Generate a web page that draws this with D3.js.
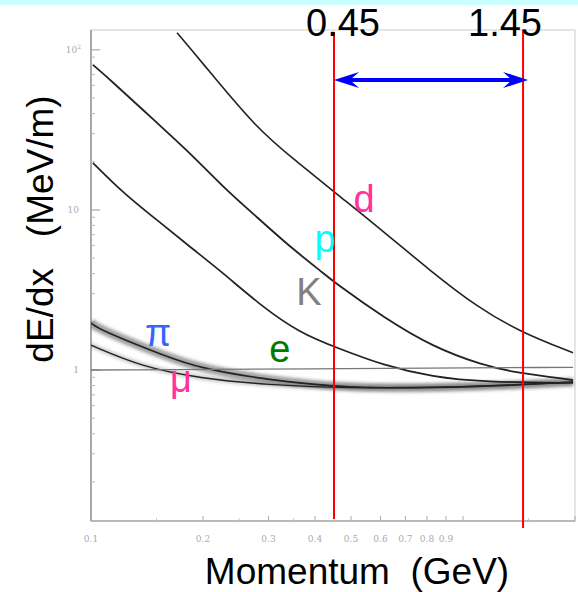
<!DOCTYPE html>
<html>
<head>
<meta charset="utf-8">
<script src="https://cdn.jsdelivr.net/npm/d3@7"></script>
<style>
  body { margin: 0; background: #fff; }
  svg { display: block; font-family: "Liberation Sans", Arial, sans-serif; }
</style>
</head>
<body>
<svg id="chart" width="578" height="592"></svg>
<script>
// momentum (GeV) and dE/dx (MeV/m)
var deutP  = [0.1703, 0.1963, 0.279, 0.358, 0.461, 0.573, 0.830, 1.091, 1.423, 1.976];
var deutE  = [127.7, 86.6, 32.0, 20.0, 12.4, 8.29, 4.04, 2.48, 1.73, 1.28];
var protP  = [0.1012, 0.1104, 0.1504, 0.1846, 0.2264, 0.279, 0.343, 0.4205, 0.461, 0.610, 0.830, 1.132, 1.363, 1.976];
var protE  = [80.5, 67.8, 35.0, 22.7, 13.9, 9.04, 5.87, 4.04, 3.40, 2.14, 1.39, 1.07, 0.97, 0.866];
var kaonP  = [0.1012, 0.1219, 0.1504, 0.1846, 0.2264, 0.2846, 0.3646, 0.461, 0.610, 0.830, 1.132, 1.976];
var kaonE  = [19.7, 12.8, 8.66, 5.87, 4.04, 2.55, 1.70, 1.37, 1.07, 0.904, 0.841, 0.83];
var pionP  = [0.1, 0.1057, 0.160, 0.196, 0.297, 0.497, 0.830, 1.423, 1.976];
var pionE  = [1.97, 1.78, 1.21, 1.03, 0.866, 0.772, 0.772, 0.806, 0.841];
var muonP  = [0.1, 0.138, 0.196, 0.297, 0.497, 0.830, 1.423, 1.976];
var muonE  = [1.43, 1.04, 0.89, 0.806, 0.772, 0.775, 0.81, 0.84];
var elecP  = [0.1, 0.5, 1.976];
var elecE  = [1.0, 1.02, 1.04];

var cutValues = [0.45, 1.45];
var cutLabels = ["0.45", "1.45"];

var labelText = ["d", "p", "K", "\u03c0", "e", "\u03bc"];
var labelP    = [0.542, 0.4256, 0.3855, 0.1514, 0.322, 0.1746];
var labelE    = [9.70, 5.46, 2.55, 1.41, 1.12, 0.728];
var labelColor = ["#ff3399", "#00ffff", "#808080", "#3366ff", "#007a00", "#ff3399"];

var yTickValues = [1, 10, 100];
var xTickValues = [0.1, 0.2, 0.3, 0.4, 0.5, 0.6, 0.7, 0.8, 0.9];
var xTickLabels = ["0.1", "0.2", "0.3", "0.4", "0.5", "0.6", "0.7", "0.8", "0.9"];

var svg = d3.select("#chart");

var plotLeft = 91, plotRight = 575, plotTop = 30, plotBottom = 521;
var x = d3.scaleLog().domain([0.1, 2.0]).range([plotLeft, plotRight]);
var y = d3.scaleLog().domain([0.114, 133]).range([plotBottom, plotTop]);

// light cyan strip at the very top
svg.append("rect").attr("x", 0).attr("y", 0).attr("width", 578).attr("height", 5).attr("fill", "#ccffff");

var defs = svg.append("defs");
defs.append("clipPath").attr("id", "plotClip")
  .append("rect").attr("x", plotLeft).attr("y", plotTop).attr("width", plotRight - plotLeft).attr("height", plotBottom - plotTop);
defs.append("filter").attr("id", "soft").attr("x", "-5%").attr("y", "-20%").attr("width", "110%").attr("height", "140%")
  .append("feGaussianBlur").attr("stdDeviation", 0.5);
defs.append("filter").attr("id", "band").attr("x", "-5%").attr("y", "-50%").attr("width", "110%").attr("height", "200%")
  .append("feGaussianBlur").attr("stdDeviation", 1.8);

// frame
svg.append("rect").attr("x", plotLeft).attr("y", plotTop).attr("width", plotRight - plotLeft).attr("height", plotBottom - plotTop)
  .attr("fill", "none").attr("stroke", "#d4d4d4").attr("stroke-width", 1.2);
svg.append("line").attr("x1", plotLeft).attr("x2", plotLeft).attr("y1", plotTop).attr("y2", plotBottom)
  .attr("stroke", "#999").attr("stroke-width", 1.6);
svg.append("line").attr("x1", plotLeft).attr("x2", plotRight).attr("y1", plotBottom).attr("y2", plotBottom)
  .attr("stroke", "#aaa").attr("stroke-width", 1.4);

// y ticks (inside)
var yMinor = [];
[0.1, 1, 10].forEach(function(dec){
  for (var k = 2; k <= 9; k++) {
    var v = dec * k;
    if (v > 0.114 && v < 133) yMinor.push(v);
  }
});
svg.selectAll(".ymin").data(yMinor).enter().append("line")
  .attr("x1", plotLeft).attr("x2", plotLeft + 4)
  .attr("y1", function(d){ return y(d); }).attr("y2", function(d){ return y(d); })
  .attr("stroke", "#bbb").attr("stroke-width", 1);
svg.selectAll(".ymaj").data(yTickValues).enter().append("line")
  .attr("x1", plotLeft).attr("x2", plotLeft + 9)
  .attr("y1", function(d){ return y(d); }).attr("y2", function(d){ return y(d); })
  .attr("stroke", "#aaa").attr("stroke-width", 1.2);

var yLab = svg.append("g").attr("fill", "#aaa").attr("font-size", 9).attr("font-family", "DejaVu Serif, serif");
yLab.append("text").attr("x", plotLeft - 12).attr("y", y(1) + 3).attr("text-anchor", "end").text("1");
yLab.append("text").attr("x", plotLeft - 12).attr("y", y(10) + 3).attr("text-anchor", "end").text("10");
var t2 = yLab.append("text").attr("x", plotLeft - 10).attr("y", y(100) + 3).attr("text-anchor", "end");
t2.append("tspan").text("10");
t2.append("tspan").attr("dy", -4).attr("font-size", 6).text("2");

// x ticks (inside)
var xMinor = [0.15, 0.25, 0.35, 0.45, 1.5];
svg.selectAll(".xmaj").data(xTickValues.concat([1, 2])).enter().append("line")
  .attr("x1", function(d){ return x(d); }).attr("x2", function(d){ return x(d); })
  .attr("y1", plotBottom).attr("y2", plotBottom - 5)
  .attr("stroke", "#aaa").attr("stroke-width", 1);
svg.selectAll(".xmin").data(xMinor).enter().append("line")
  .attr("x1", function(d){ return x(d); }).attr("x2", function(d){ return x(d); })
  .attr("y1", plotBottom).attr("y2", plotBottom - 3)
  .attr("stroke", "#ccc").attr("stroke-width", 1);
svg.append("g").attr("fill", "#aaa").attr("font-size", 9).attr("font-family", "DejaVu Serif, serif")
  .selectAll("text").data(xTickValues).enter().append("text")
  .attr("x", function(d){ return x(d); }).attr("y", plotBottom + 21)
  .attr("text-anchor", "middle")
  .text(function(d, i){ return xTickLabels[i]; });

// curves
function pts(ps, es){ return ps.map(function(p, i){ return [p, es[i]]; }); }
var line = d3.line().x(function(d){ return x(d[0]); }).y(function(d){ return y(d[1]); })
  .curve(d3.curveBasis);

var plot = svg.append("g").attr("clip-path", "url(#plotClip)");

// dense minimum-ionising band
var bandG = plot.append("g").attr("filter", "url(#band)");
bandG.append("path").datum(pts(pionP, pionE)).attr("d", line)
  .attr("fill", "none").attr("stroke", "#333").attr("stroke-opacity", 0.45).attr("stroke-width", 9);
bandG.append("path").datum(pts(muonP, muonE)).attr("d", line)
  .attr("fill", "none").attr("stroke", "#333").attr("stroke-opacity", 0.25).attr("stroke-width", 5);

var curveG = plot.append("g").attr("filter", "url(#soft)");
var curves = [
  {d: pts(deutP, deutE), w: 1.6},
  {d: pts(protP, protE), w: 1.8},
  {d: pts(kaonP, kaonE), w: 1.7},
  {d: pts(pionP, pionE), w: 1.6},
  {d: pts(muonP, muonE), w: 1.4}
];
curves.forEach(function(c){
  curveG.append("path").datum(c.d).attr("d", line)
    .attr("fill", "none").attr("stroke", "#222").attr("stroke-width", c.w);
});
plot.append("path").datum(pts(elecP, elecE)).attr("d", line)
  .attr("fill", "none").attr("stroke", "#777").attr("stroke-width", 1.3);

// cut lines
svg.append("line").attr("x1", x(cutValues[0])).attr("x2", x(cutValues[0])).attr("y1", 32).attr("y2", 519)
  .attr("stroke", "#ff0000").attr("stroke-width", 2);
svg.append("line").attr("x1", x(cutValues[1])).attr("x2", x(cutValues[1])).attr("y1", 30).attr("y2", 528)
  .attr("stroke", "#ff0000").attr("stroke-width", 2);

svg.selectAll(".cutlab").data(cutLabels).enter().append("text")
  .attr("x", function(d, i){ return x(cutValues[i]) + (i === 0 ? 9 : -18); })
  .attr("y", 36)
  .attr("text-anchor", "middle")
  .attr("font-size", 38)
  .attr("fill", "#000")
  .text(function(d){ return d; });

// double arrow
var ax1 = x(cutValues[0]), ax2 = x(cutValues[1]) + 5, ay = 80;
svg.append("line").attr("x1", ax1 + 10).attr("x2", ax2 - 10).attr("y1", ay).attr("y2", ay)
  .attr("stroke", "#0000ff").attr("stroke-width", 4);
function head(tx, dir){
  var L = 25, H = 8, S = 16;
  return "M" + tx + "," + ay +
    " L" + (tx + dir * L) + "," + (ay - H) +
    " L" + (tx + dir * S) + "," + ay +
    " L" + (tx + dir * L) + "," + (ay + H) + " Z";
}
svg.append("path").attr("d", head(ax1, 1)).attr("fill", "#0000ff");
svg.append("path").attr("d", head(ax2, -1)).attr("fill", "#0000ff");

// particle labels
svg.selectAll(".plab").data(labelText).enter().append("text")
  .attr("x", function(d, i){ return x(labelP[i]); })
  .attr("y", function(d, i){ return y(labelE[i]); })
  .attr("text-anchor", "middle")
  .attr("font-size", 38)
  .attr("fill", function(d, i){ return labelColor[i]; })
  .text(function(d){ return d; });

// axis titles
svg.append("text").attr("x", 357).attr("y", 584).attr("text-anchor", "middle")
  .attr("font-size", 37).attr("fill", "#000")
  .text("Momentum\u00a0\u00a0(GeV)");
svg.append("text").attr("transform", "translate(53,229) rotate(-90)").attr("text-anchor", "middle")
  .attr("font-size", 37).attr("fill", "#000")
  .text("dE/dx\u00a0\u00a0\u00a0(MeV/m)");
</script>
</body>
</html>
